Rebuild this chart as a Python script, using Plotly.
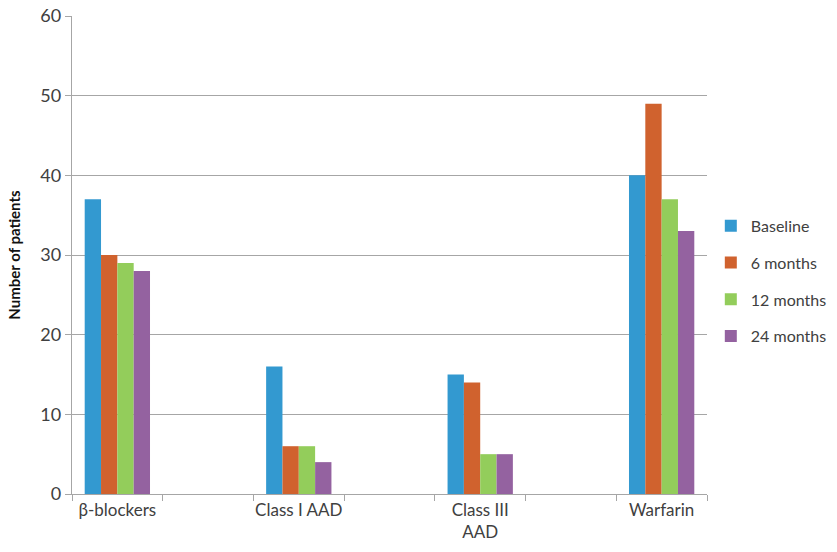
import plotly.graph_objects as go

# Categories (blank slots keep the wide spacing between drug groups)
categories = ["β-blockers", " ", "Class I AAD", "  ", "Class III<br>AAD", "   ", "Warfarin"]
series_names = ["Baseline", "6 months", "12 months", "24 months"]
baseline = [37, None, 16, None, 15, None, 40]
month6 = [30, None, 6, None, 14, None, 49]
month12 = [29, None, 6, None, 5, None, 37]
month24 = [28, None, 4, None, 5, None, 33]
y_ticks = [0, 10, 20, 30, 40, 50, 60]

colors = ["#3399D0", "#D0622E", "#93CD5B", "#9462A0"]
series = [baseline, month6, month12, month24]

fig = go.Figure()
for name, vals, col in zip(series_names, series, colors):
    fig.add_trace(go.Bar(
        x=categories, y=vals, name=name, legendgroup=name,
        marker=dict(color=col, line=dict(width=0)),
    ))

grid_col = "#A6A6A6"
font_fam = "Lato, Open Sans, sans-serif"

fig.update_layout(
    width=837, height=552,
    margin=dict(l=72, r=130, t=16, b=58, autoexpand=False),
    paper_bgcolor="white", plot_bgcolor="white",
    barmode="group", bargap=0.28, bargroupgap=0,
    font=dict(family=font_fam, size=17, color="#404040"),
    legend=dict(
        x=1.006, xanchor="left", y=0.445, yanchor="middle",
        traceorder="grouped", tracegroupgap=13,
        font=dict(size=16, color="#404040"),
        itemwidth=30,
    ),
    showlegend=True,
)
fig.update_xaxes(
    type="category", categoryorder="array", categoryarray=categories,
    tickson="boundaries", ticks="outside", ticklen=6, tickcolor=grid_col,
    showline=True, linecolor=grid_col, linewidth=1.3,
    showgrid=False, tickfont=dict(size=17, color="#404040"), tickangle=0,
    range=[-0.5, 6.5],
)
fig.update_yaxes(
    range=[0, 60], tickvals=y_ticks, ticks="outside", ticklen=6, tickcolor=grid_col,
    showline=True, linecolor=grid_col, linewidth=1.3,
    showgrid=True, gridcolor=grid_col, gridwidth=1.3,
    tickfont=dict(size=18, color="#404040"),
    title=dict(text="<b>Number of patients</b>", font=dict(size=15, color="#111111"), standoff=16),
    zeroline=False,
)

fig.write_html("out.html")
